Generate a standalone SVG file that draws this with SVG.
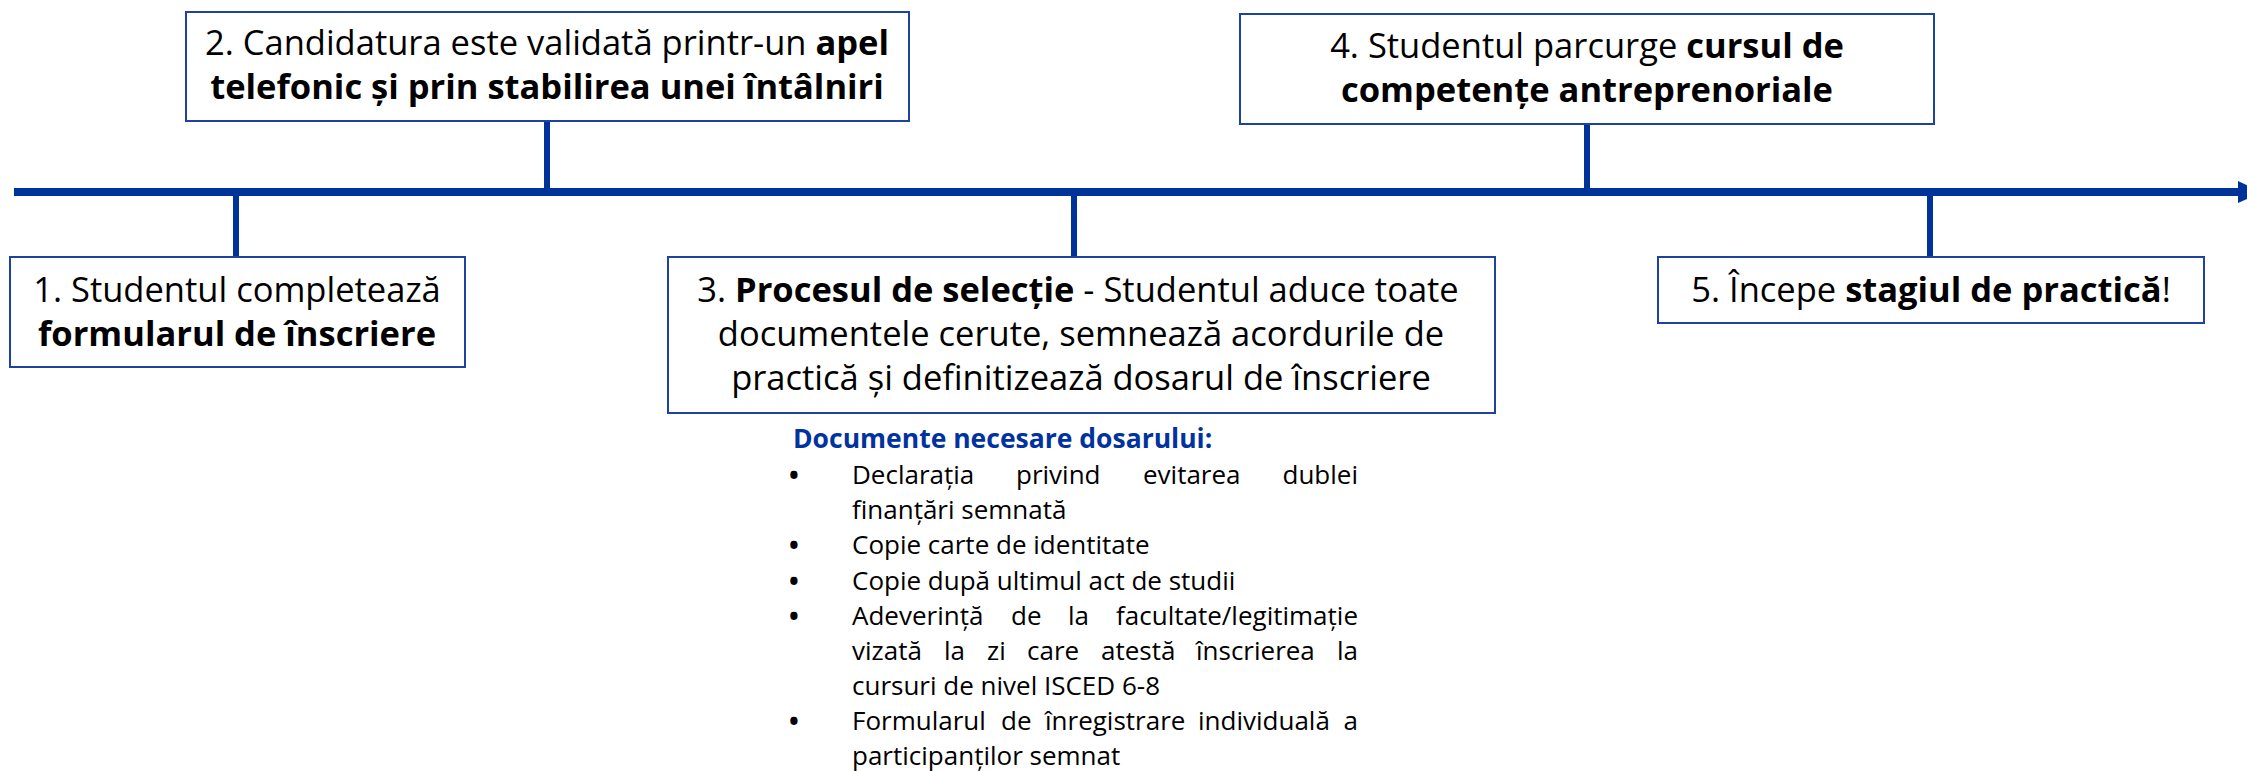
<svg xmlns="http://www.w3.org/2000/svg" width="2247" height="771" viewBox="0 0 2247 771">
<style>
.box{fill:#fff;stroke:#1E42A0;stroke-width:2}
.t{font-family:"Open Sans","Liberation Sans",sans-serif;font-size:34.5px;fill:#000;text-anchor:middle}
.b{font-weight:bold}
.l{font-family:"Open Sans","Liberation Sans",sans-serif;font-size:26px;fill:#000}
.bu{font-family:"Open Sans","Liberation Sans",sans-serif;font-size:26px;font-weight:bold;fill:#000}
.e{text-anchor:end}
.h{font-family:"Open Sans","Liberation Sans",sans-serif;font-size:26.5px;font-weight:bold;fill:#0033A0}
.conn{stroke:#003399;stroke-width:6;fill:none}
</style>
<rect width="2247" height="771" fill="#fff"/>
<g id="connectors">
<line x1="14" y1="192" x2="2242" y2="192" stroke="#003399" stroke-width="8"/>
<polygon points="2238,181 2262,192 2238,203" fill="#003399"/>
<line class="conn" x1="236" y1="192" x2="236" y2="257"/>
<line class="conn" x1="547" y1="121" x2="547" y2="192"/>
<line class="conn" x1="1074" y1="192" x2="1074" y2="257"/>
<line class="conn" x1="1587" y1="124" x2="1587" y2="192"/>
<line class="conn" x1="1930" y1="192" x2="1930" y2="257"/>
</g>
<g id="node1">
<rect class="box" x="10" y="257" width="455" height="110"/>
<text class="t" x="237" y="302">1. Studentul completează</text>
<text class="t b" x="237" y="346">formularul de înscriere</text>
</g>
<g id="node2">
<rect class="box" x="186" y="12" width="723" height="109"/>
<text class="t" x="547" y="55">2. Candidatura este validată printr-un <tspan class="b">apel</tspan></text>
<text class="t b" x="547" y="99">telefonic și prin stabilirea unei întâlniri</text>
</g>
<g id="node3">
<rect class="box" x="668" y="257" width="827" height="156"/>
<text class="t" x="1078" y="302">3. <tspan class="b">Procesul de selecție</tspan> - Studentul aduce toate</text>
<text class="t" x="1081" y="346">documentele cerute, semnează acordurile de</text>
<text class="t" x="1081" y="390">practică și definitizează dosarul de înscriere</text>
</g>
<g id="node4">
<rect class="box" x="1240" y="14" width="694" height="110"/>
<text class="t" x="1587" y="58">4. Studentul parcurge <tspan class="b">cursul de</tspan></text>
<text class="t b" x="1587" y="102">competențe antreprenoriale</text>
</g>
<g id="node5">
<rect class="box" x="1658" y="257" width="546" height="66"/>
<text class="t" x="1931" y="302">5. Începe <tspan class="b">stagiul de practică</tspan>!</text>
</g>
<g id="documents">
<text class="h" x="793" y="448">Documente necesare dosarului:</text>
<text class="bu" x="789" y="485">•</text>
<text class="bu" x="789" y="555">•</text>
<text class="bu" x="789" y="591">•</text>
<text class="bu" x="789" y="626">•</text>
<text class="bu" x="789" y="731">•</text>
<text class="l" y="484"><tspan x="852">Declarația</tspan><tspan x="1016">privind</tspan><tspan x="1143">evitarea</tspan></text>
<text class="l e" x="1358" y="484">dublei</text>
<text class="l" x="852" y="519">finanțări semnată</text>
<text class="l" x="852" y="554">Copie carte de identitate</text>
<text class="l" x="852" y="590">Copie după ultimul act de studii</text>
<text class="l" y="625"><tspan x="852">Adeverință</tspan><tspan x="1011">de</tspan><tspan x="1068">la</tspan></text>
<text class="l e" x="1358" y="625">facultate/legitimație</text>
<text class="l" y="660"><tspan x="852">vizată</tspan><tspan x="944">la</tspan><tspan x="987">zi</tspan><tspan x="1027">care</tspan><tspan x="1101">atestă</tspan><tspan x="1196">înscrierea</tspan></text>
<text class="l e" x="1358" y="660">la</text>
<text class="l" x="852" y="695">cursuri de nivel ISCED 6-8</text>
<text class="l" y="730"><tspan x="852">Formularul</tspan><tspan x="1001">de</tspan><tspan x="1045">înregistrare</tspan><tspan x="1198">individuală</tspan></text>
<text class="l e" x="1358" y="730">a</text>
<text class="l" x="852" y="765">participanților semnat</text>
</g>
</svg>
